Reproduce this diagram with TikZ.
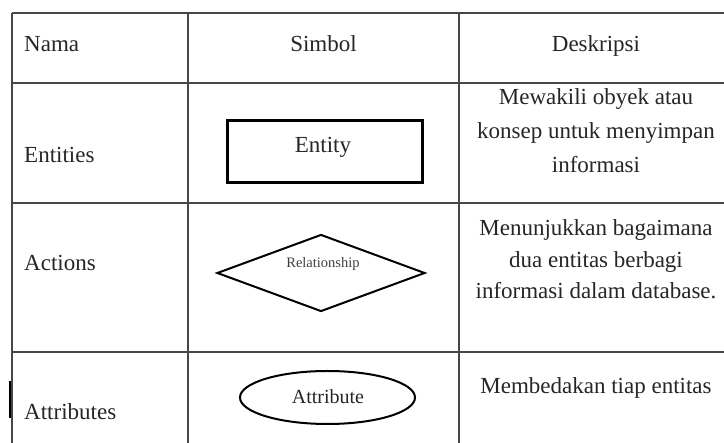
\documentclass[tikz,border=0pt]{standalone}
\usepackage{fontspec}
\setmainfont{Liberation Serif}
\usetikzlibrary{shapes.geometric}
\begin{document}
\begin{tikzpicture}[x=1pt,y=-1pt,
 gridline/.style={draw=black!72, line width=1.1pt},
 txt/.style={inner sep=0pt, font=\fontsize{23}{27}\selectfont, anchor=base, text=black!85},
 namelbl/.style={txt, anchor=base west},
 entbox/.style={draw, line width=3pt, minimum width=195pt, minimum height=62pt, inner sep=0pt},
 relbox/.style={diamond, draw, line width=2pt, minimum width=208pt, minimum height=77pt, inner sep=0pt},
 attbox/.style={ellipse, draw, line width=2pt, minimum width=175pt, minimum height=53pt, inner sep=0pt}]
\useasboundingbox[fill=white] (0,0) rectangle (724,443);
% table grid
\draw[gridline] (12,13) -- (724,13);
\draw[gridline] (12,83) -- (724,83);
\draw[gridline] (12,203) -- (724,203);
\draw[gridline] (12,352) -- (724,352);
\draw[gridline] (12,13) -- (12,443);
\draw[gridline] (188,13) -- (188,443);
\draw[gridline] (459,13) -- (459,443);
% stray mark
\draw[line width=2.2pt] (10,381) -- (10,418);
% header
\node[namelbl] (hnama) at (24,52) {Nama};
\node[txt] (hsimbol) at (323.5,52) {Simbol};
\node[txt] (hdesk) at (596,52) {Deskripsi};
% names
\node[namelbl] (nent) at (24,163) {Entities};
\node[namelbl] (nact) at (24,271) {Actions};
\node[namelbl] (natt) at (24,420) {Attributes};
% symbols
\node[entbox] (sent) at (324.5,152) {};
\node[txt] (sentt) at (323,153) {Entity};
\node[relbox] (srel) at (321,273) {};
\node[txt, font=\fontsize{14.5}{17}\selectfont, text=black!75] (srelt) at (323,268) {Relationship};
\node[attbox] (satt) at (327.5,397.5) {};
\node[txt, font=\fontsize{20}{24}\selectfont] (sattt) at (328,404) {Attribute};
% descriptions
\node[txt] (d1a) at (596,105) {Mewakili obyek atau};
\node[txt] (d1b) at (596,139) {konsep untuk menyimpan};
\node[txt] (d1c) at (596,173) {informasi};
\node[txt] (d2a) at (596,236) {Menunjukkan bagaimana};
\node[txt] (d2b) at (596,268) {dua entitas berbagi};
\node[txt] (d2c) at (596,299) {informasi dalam database.};
\node[txt] (d3a) at (596,394) {Membedakan tiap entitas};
\end{tikzpicture}
\end{document}
